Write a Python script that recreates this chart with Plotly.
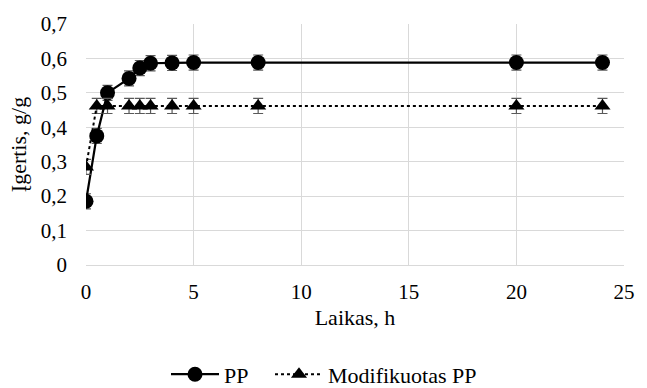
import plotly.graph_objects as go

time_h = [0, 0.5, 1, 2, 2.5, 3, 4, 5, 8, 20, 24]
pp_values = [0.185, 0.375, 0.50, 0.542, 0.572, 0.586, 0.587, 0.588, 0.588, 0.588, 0.588]
pp_err = [0.022] * 11
mod_values = [0.285, 0.462, 0.462, 0.462, 0.462, 0.462, 0.462, 0.462, 0.462, 0.462, 0.462]
mod_err = [0.022] * 11

y_ticks = [0, 0.1, 0.2, 0.3, 0.4, 0.5, 0.6, 0.7]
y_tick_labels = ["0", "0,1", "0,2", "0,3", "0,4", "0,5", "0,6", "0,7"]

FF = "Liberation Serif"

fig = go.Figure()
fig.add_trace(go.Scatter(
    x=time_h, y=pp_values, name="PP", mode="lines+markers",
    line=dict(color="black", width=2.25),
    marker=dict(symbol="circle", size=15, color="black"),
    error_y=dict(type="data", array=pp_err, color="#595959", thickness=1.2, width=5),
    legend="legend",
))
fig.add_trace(go.Scatter(
    x=time_h, y=mod_values, name="Modifikuotas PP", mode="lines+markers",
    line=dict(color="black", width=2, dash="dot"),
    marker=dict(symbol="triangle-up", size=14, color="black"),
    error_y=dict(type="data", array=mod_err, color="#595959", thickness=1.2, width=5),
    legend="legend2",
))

leg_common = dict(orientation="h", xref="container", yref="container",
                  xanchor="left", y=0.035, yanchor="middle",
                  font=dict(family=FF, size=22, color="black"), itemwidth=48,
                  bgcolor="rgba(0,0,0,0)")

fig.update_layout(
    width=647, height=388,
    margin=dict(l=86, r=12, t=21, b=123),
    paper_bgcolor="white", plot_bgcolor="white",
    font=dict(family=FF, size=21, color="black"),
    showlegend=True,
    legend=dict(x=166 / 647, **leg_common),
    legend2=dict(x=270 / 647, **leg_common),
    xaxis=dict(range=[0, 25], dtick=5, tick0=0, showgrid=True, gridcolor="#d9d9d9",
               zeroline=False, showline=True, linecolor="#d9d9d9",
               ticks="", ticklabelstandoff=8,
               tickfont=dict(family=FF, size=21, color="black"),
               title=dict(text="Laikas, h", standoff=6,
                          font=dict(family=FF, size=22, color="black"))),
    yaxis=dict(range=[0, 0.7], showgrid=True, gridcolor="#d9d9d9",
               zeroline=False, showline=False, ticks="", ticklabelstandoff=18,
               tickvals=y_ticks, ticktext=y_tick_labels,
               tickfont=dict(family=FF, size=21, color="black"),
               title=dict(text="Įgertis, g/g", standoff=8,
                          font=dict(family=FF, size=22, color="black"))),
)

fig.write_html("out.html")
